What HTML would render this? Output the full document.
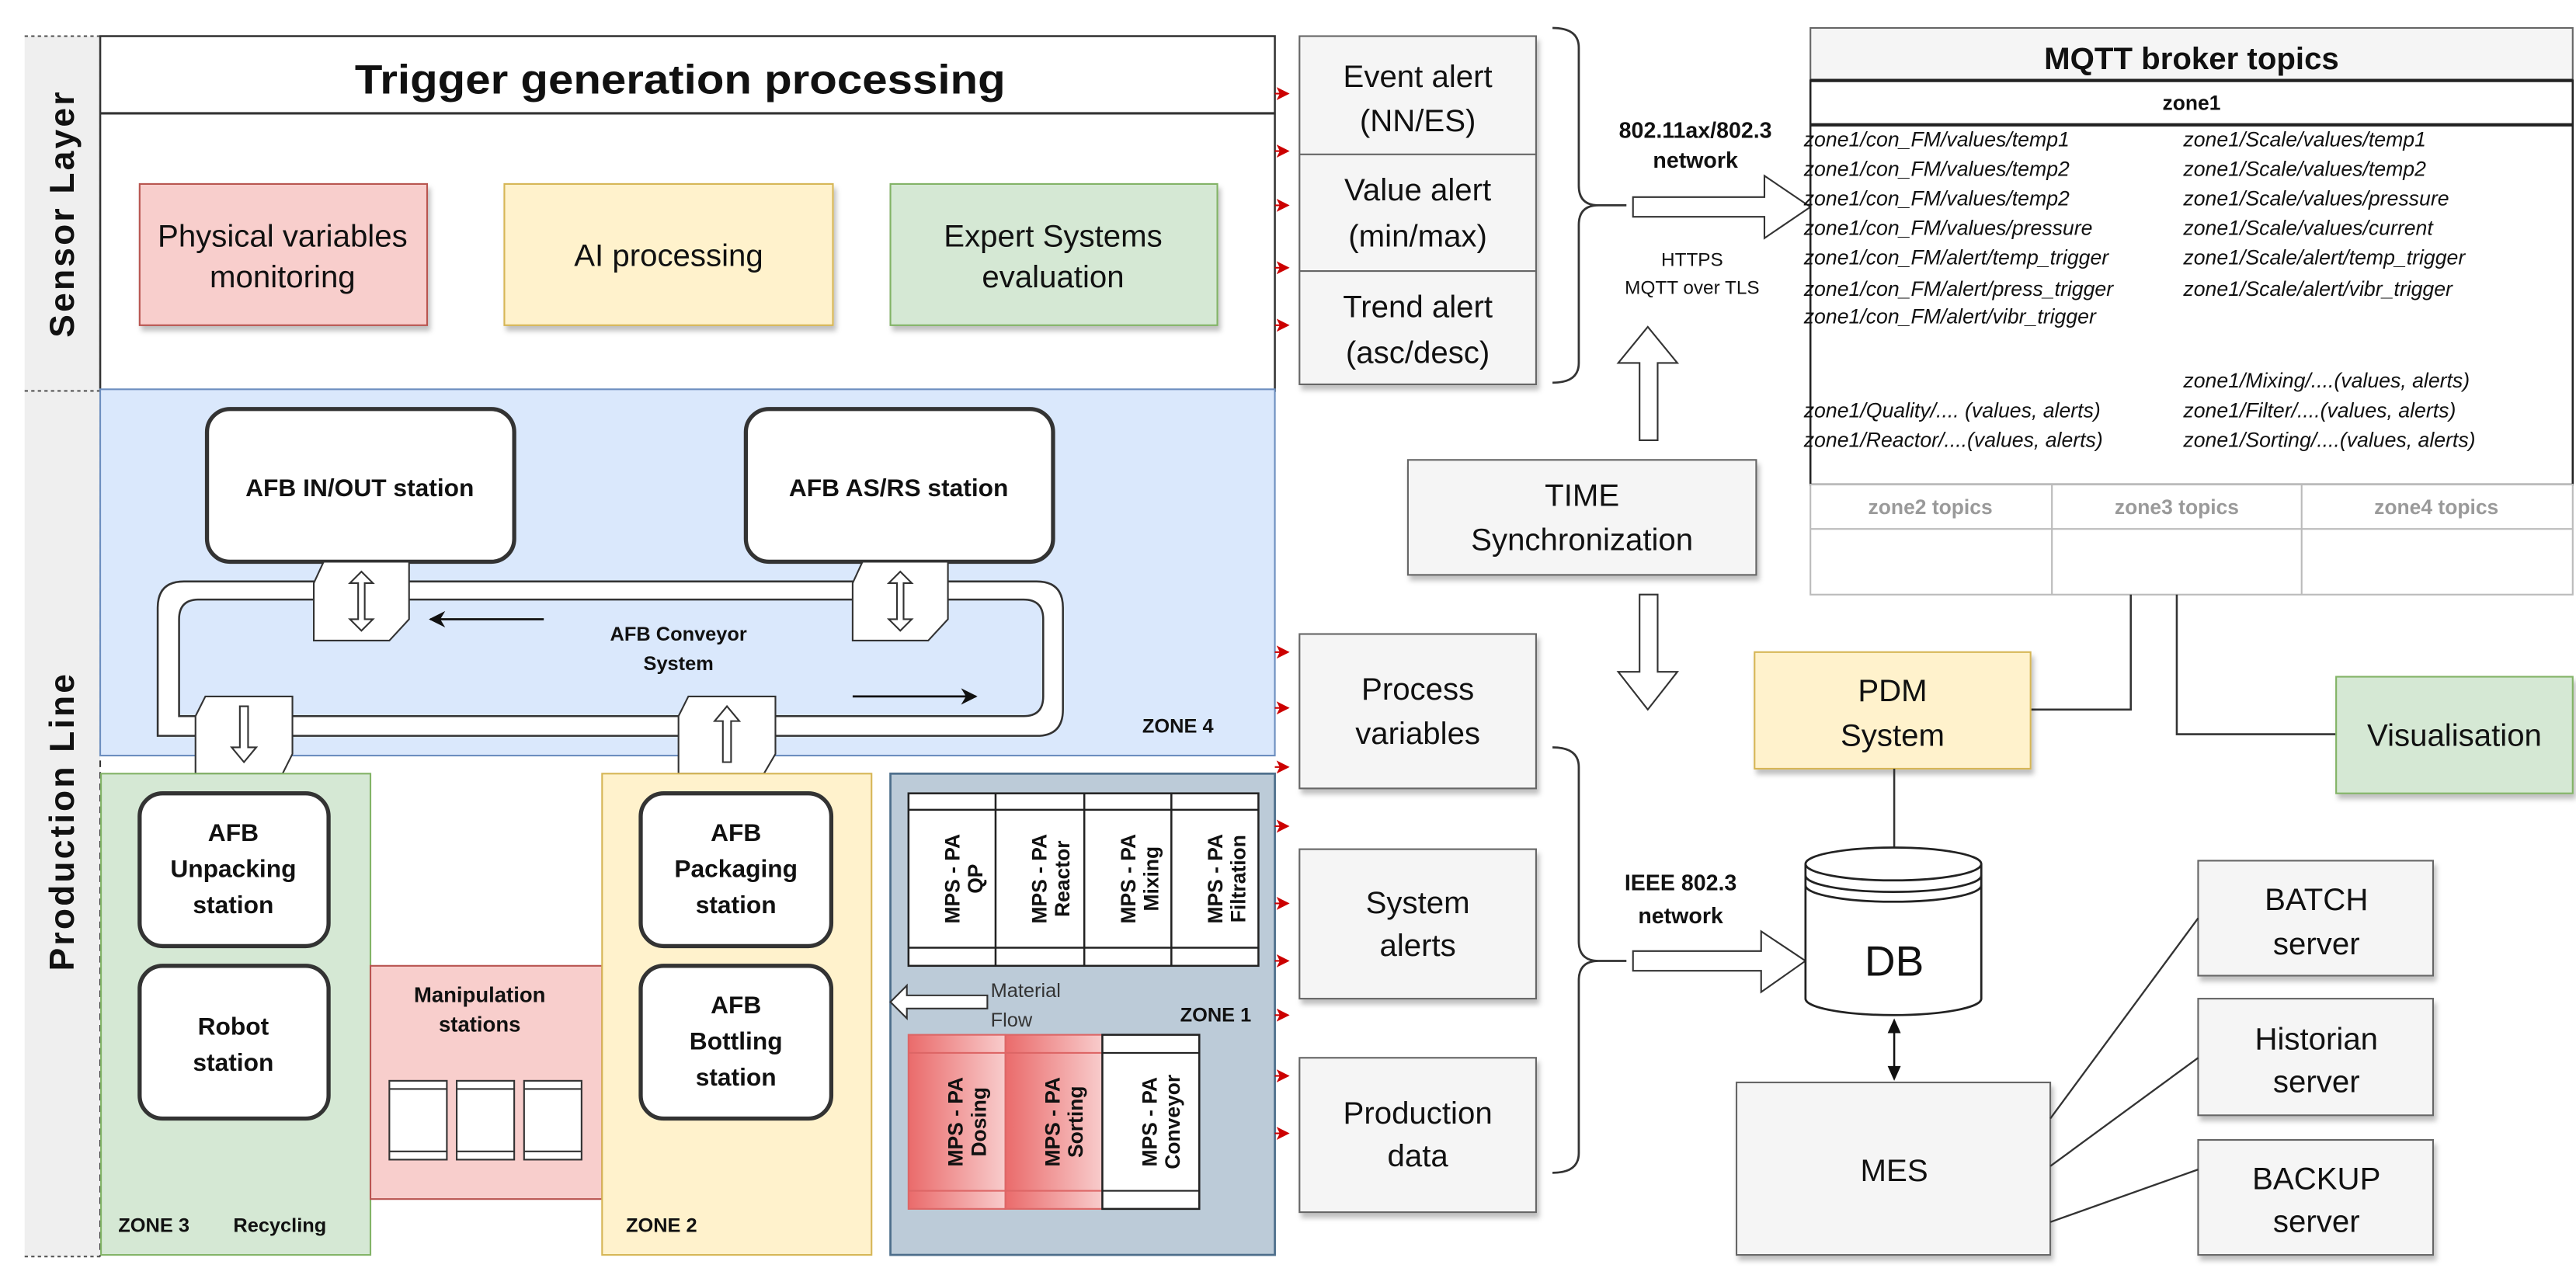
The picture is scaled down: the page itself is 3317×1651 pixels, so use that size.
<!DOCTYPE html>
<html><head><meta charset="utf-8"><style>
html,body{margin:0;padding:0;background:#fff;}
svg{display:block;}
text{font-family:"Liberation Sans",Arial,sans-serif;}
.b{font-weight:bold;}
.it{font-style:italic;font-size:12.6px;}
</style></head><body>
<svg width="3317" height="1651" viewBox="0 0 1568 780.5" preserveAspectRatio="none" xmlns="http://www.w3.org/2000/svg" fill="#111">
<defs>
<marker id="ra" markerWidth="8" markerHeight="8" refX="7" refY="4" orient="auto" markerUnits="userSpaceOnUse"><path d="M0,0 L8,4 L0,8 L2,4 Z" fill="#c00"/></marker>
<marker id="ba" markerWidth="10" markerHeight="10" refX="9" refY="5" orient="auto" markerUnits="userSpaceOnUse"><path d="M0,0 L10,5 L0,10 L3,5 Z" fill="#111"/></marker>
<linearGradient id="rg" x1="0" x2="1" y1="0" y2="0"><stop offset="0" stop-color="#ea6b6b"/><stop offset="1" stop-color="#f8cccc"/></linearGradient>
<filter id="sh" x="-5%" y="-5%" width="115%" height="120%"><feDropShadow dx="1.5" dy="3" stdDeviation="1.5" flood-color="#000" flood-opacity="0.25"/></filter>
</defs>

<rect x="15" y="22" width="46" height="216" fill="#efefef"/>
<rect x="15" y="238" width="46" height="527" fill="#efefef"/>
<line x1="61" y1="22" x2="61" y2="765" stroke="#333" stroke-dasharray="4,3"/>
<line x1="15" y1="22" x2="61" y2="22" stroke="#555" stroke-dasharray="2,2"/>
<line x1="15" y1="238" x2="61" y2="238" stroke="#555" stroke-dasharray="2,2"/>
<line x1="15" y1="765" x2="61" y2="765" stroke="#555" stroke-dasharray="2,2"/>
<text class="b" font-size="21" transform="translate(45,130) rotate(-90)" text-anchor="middle" letter-spacing="1.5">Sensor Layer</text>
<text class="b" font-size="21" transform="translate(45,500) rotate(-90)" text-anchor="middle" letter-spacing="1.5">Production Line</text>

<rect x="61" y="22" width="715" height="216" fill="#fff" stroke="#333" stroke-width="1.2"/>
<line x1="61" y1="69" x2="776" y2="69" stroke="#333" stroke-width="1.5"/>
<text class="b" x="414" y="57" font-size="25" text-anchor="middle" textLength="396" lengthAdjust="spacingAndGlyphs">Trigger generation processing</text>
<rect x="85" y="112" width="175" height="86" fill="#f8cecc" stroke="#b85450" filter="url(#sh)"/>
<text x="172" y="150" font-size="19" text-anchor="middle">Physical variables</text>
<text x="172" y="175" font-size="19" text-anchor="middle">monitoring</text>
<rect x="307" y="112" width="200" height="86" fill="#fff2cc" stroke="#d6b656" filter="url(#sh)"/>
<text x="407" y="162" font-size="19" text-anchor="middle">AI processing</text>
<rect x="542" y="112" width="199" height="86" fill="#d5e8d4" stroke="#82b366" filter="url(#sh)"/>
<text x="641" y="150" font-size="19" text-anchor="middle">Expert Systems</text>
<text x="641" y="175" font-size="19" text-anchor="middle">evaluation</text>

<rect x="61" y="237" width="715" height="223" fill="#dae8fc" stroke="#6c8ebf"/>
<rect x="126" y="249" width="187" height="93" rx="14" fill="#fff" stroke="#333" stroke-width="2.5"/>
<text class="b" x="219" y="302" font-size="15" text-anchor="middle">AFB IN/OUT station</text>
<rect x="454" y="249" width="187" height="93" rx="14" fill="#fff" stroke="#333" stroke-width="2.5"/>
<text class="b" x="547" y="302" font-size="15" text-anchor="middle">AFB AS/RS station</text>
<path d="M96,448 L96,370 Q96,354 112,354 L631,354 Q647,354 647,370 L647,432 Q647,448 631,448 Z M109,436 L623,436 Q635,436 635,424 L635,377 Q635,365 623,365 L121,365 Q109,365 109,377 Z" fill="#fff" fill-rule="evenodd" stroke="#333" stroke-width="1.2"/>
<path d="M197,342 L249,342 L249,377 L237,390 L191,390 L191,355 Z" fill="#fff" stroke="#333"/>
<path d="M220,348 l-7,7 h5 v22 h-5 l7,7 l7,-7 h-5 v-22 h5 z" fill="#fff" stroke="#333"/>
<path d="M525,342 L577,342 L577,377 L565,390 L519,390 L519,355 Z" fill="#fff" stroke="#333"/>
<path d="M548,348 l-7,7 h5 v22 h-5 l7,7 l7,-7 h-5 v-22 h5 z" fill="#fff" stroke="#333"/>
<path d="M125,424 L178,424 L178,459 L172,471 L119,471 L119,436 Z" fill="#fff" stroke="#333"/>
<path d="M146,430 h5 v25 h5 l-7.5,9 l-7.5,-9 h5 z" fill="#fff" stroke="#333"/>
<path d="M419,424 L472,424 L472,459 L465,471 L413,471 L413,436 Z" fill="#fff" stroke="#333"/>
<path d="M440,464 h5 v-25 h5 l-7.5,-9 l-7.5,9 h5 z" fill="#fff" stroke="#333"/>
<line x1="331" y1="377" x2="262" y2="377" stroke="#111" stroke-width="1.3" marker-end="url(#ba)"/>
<line x1="519" y1="424" x2="594" y2="424" stroke="#111" stroke-width="1.3" marker-end="url(#ba)"/>
<text class="b" x="413" y="390" font-size="12" text-anchor="middle">AFB Conveyor</text>
<text class="b" x="413" y="408" font-size="12" text-anchor="middle">System</text>
<text class="b" x="717" y="446" font-size="12" text-anchor="middle">ZONE 4</text>

<rect x="61.5" y="471" width="164" height="293" fill="#d5e8d4" stroke="#82b366"/>
<rect x="85" y="483" width="115" height="93" rx="14" fill="#fff" stroke="#333" stroke-width="2.5"/>
<text class="b" x="142" y="512" font-size="15" text-anchor="middle">AFB</text>
<text class="b" x="142" y="534" font-size="15" text-anchor="middle">Unpacking</text>
<text class="b" x="142" y="556" font-size="15" text-anchor="middle">station</text>
<rect x="85" y="588" width="115" height="93" rx="14" fill="#fff" stroke="#333" stroke-width="2.5"/>
<text class="b" x="142" y="630" font-size="15" text-anchor="middle">Robot</text>
<text class="b" x="142" y="652" font-size="15" text-anchor="middle">station</text>
<text class="b" x="72" y="750" font-size="12">ZONE 3</text>
<text class="b" x="142" y="750" font-size="12">Recycling</text>

<rect x="225.5" y="588" width="141" height="142" fill="#f8cecc" stroke="#b85450"/>
<text class="b" x="292" y="610" font-size="13" text-anchor="middle">Manipulation</text>
<text class="b" x="292" y="628" font-size="13" text-anchor="middle">stations</text>
<g fill="#fff" stroke="#333">
<rect x="237" y="658" width="35" height="48"/><line x1="237" y1="663" x2="272" y2="663"/><line x1="237" y1="701" x2="272" y2="701"/>
<rect x="278" y="658" width="35" height="48"/><line x1="278" y1="663" x2="313" y2="663"/><line x1="278" y1="701" x2="313" y2="701"/>
<rect x="319" y="658" width="35" height="48"/><line x1="319" y1="663" x2="354" y2="663"/><line x1="319" y1="701" x2="354" y2="701"/>
</g>

<rect x="366.5" y="471" width="164" height="293" fill="#fff2cc" stroke="#d6b656"/>
<rect x="390" y="483" width="116" height="93" rx="14" fill="#fff" stroke="#333" stroke-width="2.5"/>
<text class="b" x="448" y="512" font-size="15" text-anchor="middle">AFB</text>
<text class="b" x="448" y="534" font-size="15" text-anchor="middle">Packaging</text>
<text class="b" x="448" y="556" font-size="15" text-anchor="middle">station</text>
<rect x="390" y="588" width="116" height="93" rx="14" fill="#fff" stroke="#333" stroke-width="2.5"/>
<text class="b" x="448" y="617" font-size="15" text-anchor="middle">AFB</text>
<text class="b" x="448" y="639" font-size="15" text-anchor="middle">Bottling</text>
<text class="b" x="448" y="661" font-size="15" text-anchor="middle">station</text>
<text class="b" x="381" y="750" font-size="12">ZONE 2</text>

<rect x="542" y="471" width="234" height="293" fill="#bccbd8" stroke="#4e6f8c" stroke-width="1.3"/>
<g stroke="#222" stroke-width="1.2">
<rect x="553" y="483" width="213" height="105" fill="#fff"/>
<line x1="553" y1="493" x2="766" y2="493"/><line x1="553" y1="577" x2="766" y2="577"/>
<line x1="606" y1="483" x2="606" y2="588"/><line x1="660" y1="483" x2="660" y2="588"/><line x1="713" y1="483" x2="713" y2="588"/>
</g>
<g font-size="12.5" font-weight="bold" text-anchor="middle">
<text transform="translate(584,535) rotate(-90)">MPS - PA</text><text transform="translate(598,535) rotate(-90)">QP</text>
<text transform="translate(637,535) rotate(-90)">MPS - PA</text><text transform="translate(651,535) rotate(-90)">Reactor</text>
<text transform="translate(691,535) rotate(-90)">MPS - PA</text><text transform="translate(705,535) rotate(-90)">Mixing</text>
<text transform="translate(744,535) rotate(-90)">MPS - PA</text><text transform="translate(758,535) rotate(-90)">Filtration</text>
</g>
<path d="M542,610 l10,-10 v6 h49 v8 h-49 v6 z" fill="#fff" stroke="#333"/>
<text x="603" y="607" font-size="12" fill="#333">Material</text>
<text x="603" y="625" font-size="12" fill="#333">Flow</text>
<text class="b" x="740" y="622" font-size="12" text-anchor="middle">ZONE 1</text>
<rect x="553" y="630" width="59" height="106" fill="url(#rg)" stroke="#d66"/>
<rect x="612" y="630" width="59" height="106" fill="url(#rg)" stroke="#d66"/>
<line x1="553" y1="641" x2="671" y2="641" stroke="#d66"/><line x1="553" y1="725" x2="671" y2="725" stroke="#d66"/>
<rect x="671" y="630" width="59" height="106" fill="#fff" stroke="#222" stroke-width="1.2"/>
<line x1="671" y1="641" x2="730" y2="641" stroke="#222"/><line x1="671" y1="725" x2="730" y2="725" stroke="#222"/>
<g font-size="12.5" font-weight="bold" text-anchor="middle">
<text transform="translate(586,683) rotate(-90)">MPS - PA</text><text transform="translate(600,683) rotate(-90)">Dosing</text>
<text transform="translate(645,683) rotate(-90)">MPS - PA</text><text transform="translate(659,683) rotate(-90)">Sorting</text>
<text transform="translate(704,683) rotate(-90)">MPS - PA</text><text transform="translate(718,683) rotate(-90)">Conveyor</text>
</g>

<g stroke="#c00" stroke-width="1" marker-end="url(#ra)">
<line x1="776" y1="57" x2="784" y2="57"/><line x1="776" y1="92" x2="784" y2="92"/><line x1="776" y1="125" x2="784" y2="125"/>
<line x1="776" y1="163" x2="784" y2="163"/><line x1="776" y1="198" x2="784" y2="198"/>
<line x1="776" y1="397" x2="784" y2="397"/><line x1="776" y1="431" x2="784" y2="431"/><line x1="776" y1="467" x2="784" y2="467"/>
<line x1="776" y1="503" x2="784" y2="503"/><line x1="776" y1="550" x2="784" y2="550"/><line x1="776" y1="585" x2="784" y2="585"/>
<line x1="776" y1="618" x2="784" y2="618"/><line x1="776" y1="655" x2="784" y2="655"/><line x1="776" y1="690" x2="784" y2="690"/>
</g>

<rect x="791" y="22" width="144" height="212" fill="#f5f5f5" stroke="#666" filter="url(#sh)"/>
<line x1="791" y1="94" x2="935" y2="94" stroke="#666"/><line x1="791" y1="165" x2="935" y2="165" stroke="#666"/>
<g font-size="19" text-anchor="middle">
<text x="863" y="53">Event alert</text><text x="863" y="80">(NN/ES)</text>
<text x="863" y="122">Value alert</text><text x="863" y="150">(min/max)</text>
<text x="863" y="193">Trend alert</text><text x="863" y="221">(asc/desc)</text>
</g>
<path d="M945,17 q16,0 16,12 v84 q0,12 12,12 h17 M973,125 q-12,0 -12,12 v84 q0,12 -16,12" fill="none" stroke="#333" stroke-width="1.3"/>
<path d="M994,120 h80 v-13 l28,19 l-28,19 v-13 h-80 z" fill="#fff" stroke="#333"/>
<text class="b" x="1032" y="84" font-size="13.5" text-anchor="middle">802.11ax/802.3</text>
<text class="b" x="1032" y="102" font-size="13.5" text-anchor="middle">network</text>
<text x="1030" y="162" font-size="11.5" text-anchor="middle">HTTPS</text>
<text x="1030" y="179" font-size="11.5" text-anchor="middle">MQTT over TLS</text>
<path d="M998,268 v-47 h-13 l18,-22 l18,22 h-12 v47 z" fill="#fff" stroke="#333"/>
<rect x="857" y="280" width="212" height="70" fill="#f5f5f5" stroke="#666" filter="url(#sh)"/>
<text x="963" y="308" font-size="19" text-anchor="middle">TIME</text>
<text x="963" y="335" font-size="19" text-anchor="middle">Synchronization</text>
<path d="M998,362 v47 h-13 l18,23 l18,-23 h-12 v-47 z" fill="#fff" stroke="#333"/>

<rect x="1102" y="17" width="464" height="32" fill="#f5f5f5" stroke="#666"/>
<text class="b" x="1334" y="42" font-size="19" text-anchor="middle">MQTT broker topics</text>
<rect x="1102" y="49" width="464" height="246" fill="#fff" stroke="#222" stroke-width="1.2"/>
<line x1="1102" y1="49" x2="1566" y2="49" stroke="#222" stroke-width="2"/>
<line x1="1102" y1="76" x2="1566" y2="76" stroke="#222" stroke-width="2"/>
<text class="b" x="1334" y="67" font-size="12.5" text-anchor="middle">zone1</text>
<g class="it">
<text x="1098" y="89">zone1/con_FM/values/temp1</text>
<text x="1098" y="107">zone1/con_FM/values/temp2</text>
<text x="1098" y="125">zone1/con_FM/values/temp2</text>
<text x="1098" y="143">zone1/con_FM/values/pressure</text>
<text x="1098" y="161">zone1/con_FM/alert/temp_trigger</text>
<text x="1098" y="180">zone1/con_FM/alert/press_trigger</text>
<text x="1098" y="197">zone1/con_FM/alert/vibr_trigger</text>
<text x="1329" y="89">zone1/Scale/values/temp1</text>
<text x="1329" y="107">zone1/Scale/values/temp2</text>
<text x="1329" y="125">zone1/Scale/values/pressure</text>
<text x="1329" y="143">zone1/Scale/values/current</text>
<text x="1329" y="161">zone1/Scale/alert/temp_trigger</text>
<text x="1329" y="180">zone1/Scale/alert/vibr_trigger</text>
<text x="1329" y="236">zone1/Mixing/....(values, alerts)</text>
<text x="1098" y="254">zone1/Quality/.... (values, alerts)</text>
<text x="1329" y="254">zone1/Filter/....(values, alerts)</text>
<text x="1098" y="272">zone1/Reactor/....(values, alerts)</text>
<text x="1329" y="272">zone1/Sorting/....(values, alerts)</text>
</g>
<rect x="1102" y="295" width="464" height="67" fill="#fff" stroke="#bbb"/>
<line x1="1102" y1="322" x2="1566" y2="322" stroke="#bbb"/>
<line x1="1249" y1="295" x2="1249" y2="362" stroke="#bbb"/>
<line x1="1401" y1="295" x2="1401" y2="362" stroke="#bbb"/>
<g font-size="12.5" font-weight="bold" text-anchor="middle" fill="#9a9a9a">
<text x="1175" y="313">zone2 topics</text><text x="1325" y="313">zone3 topics</text><text x="1483" y="313">zone4 topics</text>
</g>
<polyline points="1297,362 1297,432 1236,432" fill="none" stroke="#333" stroke-width="1.2"/>
<polyline points="1325,362 1325,447 1422,447" fill="none" stroke="#333" stroke-width="1.2"/>

<rect x="791" y="386" width="144" height="94" fill="#f5f5f5" stroke="#666" filter="url(#sh)"/>
<text x="863" y="426" font-size="19" text-anchor="middle">Process</text>
<text x="863" y="453" font-size="19" text-anchor="middle">variables</text>
<rect x="791" y="517" width="144" height="91" fill="#f5f5f5" stroke="#666" filter="url(#sh)"/>
<text x="863" y="556" font-size="19" text-anchor="middle">System</text>
<text x="863" y="582" font-size="19" text-anchor="middle">alerts</text>
<rect x="791" y="644" width="144" height="94" fill="#f5f5f5" stroke="#666" filter="url(#sh)"/>
<text x="863" y="684" font-size="19" text-anchor="middle">Production</text>
<text x="863" y="710" font-size="19" text-anchor="middle">data</text>
<path d="M945,455 q16,0 16,12 v106 q0,12 12,12 h17 M973,585 q-12,0 -12,12 v105 q0,12 -16,12" fill="none" stroke="#333" stroke-width="1.3"/>
<path d="M994,579 h78 v-12 l27,18 l-27,19 v-13 h-78 z" fill="#fff" stroke="#333"/>
<text class="b" x="1023" y="542" font-size="13.5" text-anchor="middle">IEEE 802.3</text>
<text class="b" x="1023" y="562" font-size="13.5" text-anchor="middle">network</text>

<rect x="1068" y="397" width="168" height="71" fill="#fff2cc" stroke="#d6b656" filter="url(#sh)"/>
<text x="1152" y="427" font-size="19" text-anchor="middle">PDM</text>
<text x="1152" y="454" font-size="19" text-anchor="middle">System</text>
<rect x="1422" y="412" width="144" height="71" fill="#d5e8d4" stroke="#82b366" filter="url(#sh)"/>
<text x="1494" y="454" font-size="19" text-anchor="middle">Visualisation</text>
<line x1="1153" y1="468" x2="1153" y2="516" stroke="#333" stroke-width="1.2"/>

<path d="M1099,526 v82 a53.5,10 0 0 0 107,0 v-82" fill="#fff" stroke="#222" stroke-width="1.3"/>
<ellipse cx="1152.5" cy="526" rx="53.5" ry="10" fill="#fff" stroke="#222" stroke-width="1.3"/>
<path d="M1099,533 a53.5,10 0 0 0 107,0 M1099,539 a53.5,10 0 0 0 107,0" fill="none" stroke="#222" stroke-width="1.3"/>
<text x="1153" y="594" font-size="26" text-anchor="middle">DB</text>
<line x1="1153" y1="628" x2="1153" y2="650" stroke="#111" stroke-width="1.2"/>
<path d="M1149,629 l4,-9 l4,9 z M1149,649 l4,9 l4,-9 z" fill="#111"/>

<rect x="1057" y="659" width="191" height="105" fill="#f5f5f5" stroke="#666" filter="url(#sh)"/>
<text x="1153" y="719" font-size="19" text-anchor="middle">MES</text>
<rect x="1338" y="524" width="143" height="70" fill="#f5f5f5" stroke="#666" filter="url(#sh)"/>
<text x="1410" y="554" font-size="19" text-anchor="middle">BATCH</text>
<text x="1410" y="581" font-size="19" text-anchor="middle">server</text>
<rect x="1338" y="608" width="143" height="71" fill="#f5f5f5" stroke="#666" filter="url(#sh)"/>
<text x="1410" y="639" font-size="19" text-anchor="middle">Historian</text>
<text x="1410" y="665" font-size="19" text-anchor="middle">server</text>
<rect x="1338" y="694" width="143" height="70" fill="#f5f5f5" stroke="#666" filter="url(#sh)"/>
<text x="1410" y="724" font-size="19" text-anchor="middle">BACKUP</text>
<text x="1410" y="750" font-size="19" text-anchor="middle">server</text>
<g stroke="#333" stroke-width="1.1">
<line x1="1248" y1="681" x2="1338" y2="559"/>
<line x1="1248" y1="710" x2="1338" y2="644"/>
<line x1="1248" y1="744" x2="1338" y2="712"/>
</g>
</svg>
</body></html>
